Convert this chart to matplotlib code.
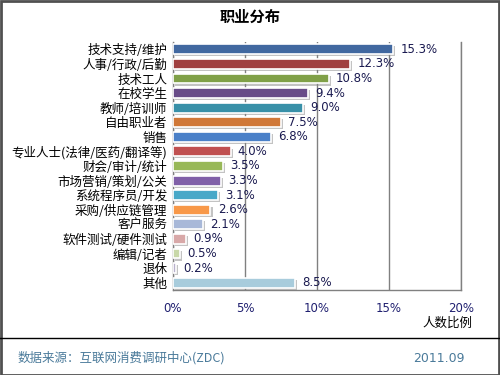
import matplotlib
matplotlib.use('Agg')
import matplotlib.pyplot as plt
import matplotlib.patheffects as pe
from matplotlib.patches import Rectangle

plt.rcParams['font.family'] = ['Noto Sans CJK SC', 'DejaVu Sans']

categories = ['技术支持/维护', '人事/行政/后勤', '技术工人', '在校学生', '教师/培训师',
              '自由职业者', '销售', '专业人士(法律/医药/翻译等)', '财会/审计/统计',
              '市场营销/策划/公关', '系统程序员/开发', '采购/供应链管理', '客户服务',
              '软件测试/硬件测试', '编辑/记者', '退休', '其他']
values = [15.3, 12.3, 10.8, 9.4, 9.0, 7.5, 6.8, 4.0, 3.5, 3.3, 3.1, 2.6, 2.1, 0.9, 0.5, 0.2, 8.5]
colors = ['#4168A0', '#A04040', '#80A048', '#684C88', '#3890A8', '#D07838', '#4A80C8',
          '#C05050', '#98B858', '#8060A8', '#48A8C8', '#F89848', '#A8B8D8',
          '#D8A8A8', '#C8D8A8', '#B8B0CC', '#A8CCDC']
xticks = [0, 5, 10, 15, 20]

fig = plt.figure(figsize=(5, 3.75), dpi=100)
ax = fig.add_axes([0.346, 0.2267, 0.576, 0.6613])

ypos = list(range(len(categories)))
bars = ax.barh(ypos, values, height=0.68, color=colors, edgecolor='white', linewidth=1.2, zorder=3)
for b in bars:
    b.set_path_effects([pe.SimplePatchShadow(offset=(1.5, -1.5), shadow_rgbFace='#888888', alpha=0.5), pe.Normal()])

for y, v in zip(ypos, values):
    ax.text(v + 0.5, y, '%.1f%%' % v, va='center', ha='left', fontsize=8.5, color='#1a1a50',
            family=['DejaVu Sans'], zorder=4)

ax.set_xlim(0, 20)
ax.set_ylim(16.5, -0.5)
ax.set_xticks(xticks)
ax.set_xticklabels(['%d%%' % t for t in xticks], color='#202070', fontsize=8.5, family=['DejaVu Sans'])
ax.set_yticks(ypos)
ax.set_yticklabels(categories, fontsize=9, color='black')
ax.tick_params(axis='y', length=0, pad=4)
ax.tick_params(axis='x', length=0, pad=9)
ax.grid(axis='x', color='#808080', linewidth=1, zorder=0)
ax.spines['top'].set_visible(False)
for s in ['left', 'bottom', 'right']:
    ax.spines[s].set_color('#808080')
    ax.spines[s].set_linewidth(1)

fig.text(0.5, 0.955, '职业分布', ha='center', va='center', fontsize=11, fontweight='bold')
fig.text(0.944, 0.138, '人数比例', ha='right', va='center', fontsize=9)

# footer
fig.add_artist(plt.Line2D([0, 1], [0.099, 0.099], color='black', linewidth=1, transform=fig.transFigure))
fig.text(0.036, 0.045, '数据来源：互联网消费调研中心(ZDC)', ha='left', va='center', fontsize=9, color='#4A7A9A')
fig.text(0.93, 0.045, '2011.09', ha='right', va='center', fontsize=9, color='#4A7A9A', family=['DejaVu Sans'])

fig.add_artist(Rectangle((0.001, 0.001), 0.997, 0.997, fill=False, edgecolor='#505050',
                         linewidth=2, transform=fig.transFigure))

fig.savefig('out.png', dpi=100)
